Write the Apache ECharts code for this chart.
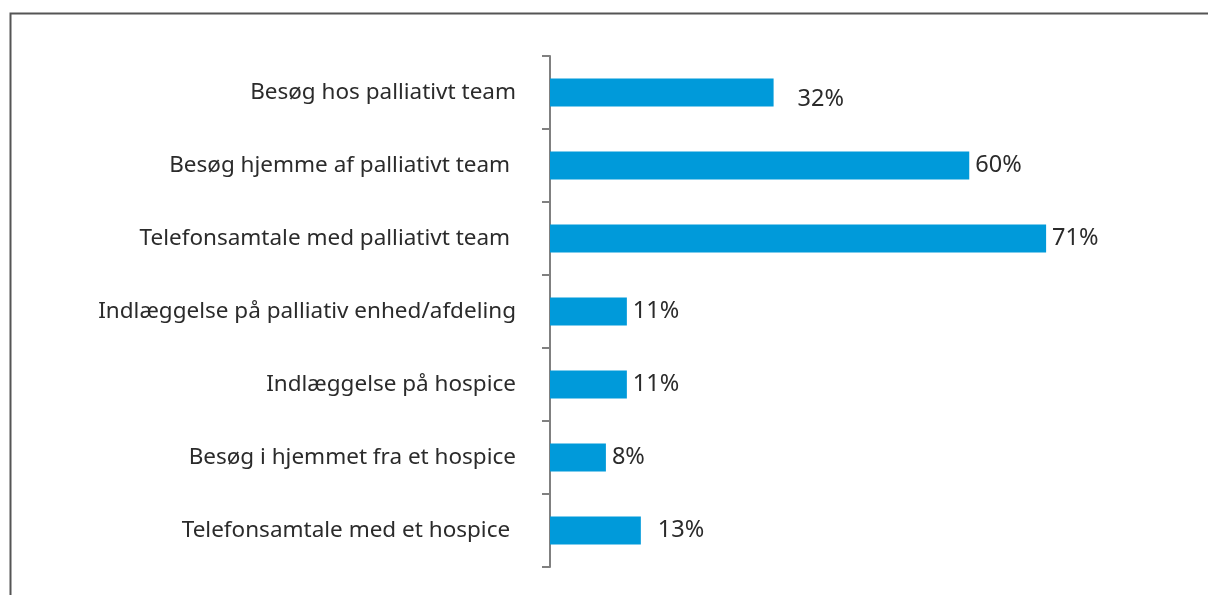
<!DOCTYPE html>
<html>
<head>
<meta charset="utf-8">
<script src="https://cdn.jsdelivr.net/npm/echarts@6/dist/echarts.min.js"></script>
<style>
html,body{margin:0;padding:0;background:#fff;}
#chart{width:1208px;height:595px;}
</style>
</head>
<body>
<div id="chart"></div>
<script>
const categories = [
  "Besøg hos palliativt team",
  "Besøg hjemme af palliativt team ",
  "Telefonsamtale med palliativt team ",
  "Indlæggelse på palliativ enhed/afdeling",
  "Indlæggelse på hospice",
  "Besøg i hjemmet fra et hospice",
  "Telefonsamtale med et hospice "
];
const values = [32, 60, 71, 11, 11, 8, 13];

// label nudges (styling only)
const labelNudge = { 0: [18, 7], 6: [11, 0] };

const chart = echarts.init(document.getElementById('chart'), null, {renderer: 'canvas'});
const FONT = '"Noto Sans", "Open Sans", sans-serif';

chart.setOption({
  animation: false,
  backgroundColor: '#ffffff',
  graphic: [{
    type: 'polyline',
    shape: { points: [[10.5, 700], [10.5, 13.5], [1300, 13.5]] },
    style: { stroke: '#555555', lineWidth: 2, fill: null },
    silent: true
  }],
  grid: { left: 550, top: 56, bottom: 28, right: 99, containLabel: false },
  xAxis: {
    type: 'value', min: 0, max: 80, show: false
  },
  yAxis: {
    type: 'category',
    data: categories,
    inverse: true,
    axisLine: { show: true, lineStyle: { color: '#808080', width: 2 } },
    axisTick: { show: true, length: 8, lineStyle: { color: '#808080', width: 2 } },
    axisLabel: { color: '#2b2b2b', fontSize: 22.5, fontFamily: FONT, margin: 34 },
    splitLine: { show: false }
  },
  series: [{
    type: 'bar',
    data: values.map((v, i) => ({
      value: v,
      label: labelNudge[i] ? { offset: labelNudge[i] } : undefined
    })),
    barWidth: 28,
    itemStyle: { color: '#009ADA' },
    label: {
      show: true, position: 'right', distance: 6,
      formatter: p => p.value + '%',
      color: '#2b2b2b', fontSize: 23.5, fontFamily: FONT
    }
  }]
});
</script>
</body>
</html>
